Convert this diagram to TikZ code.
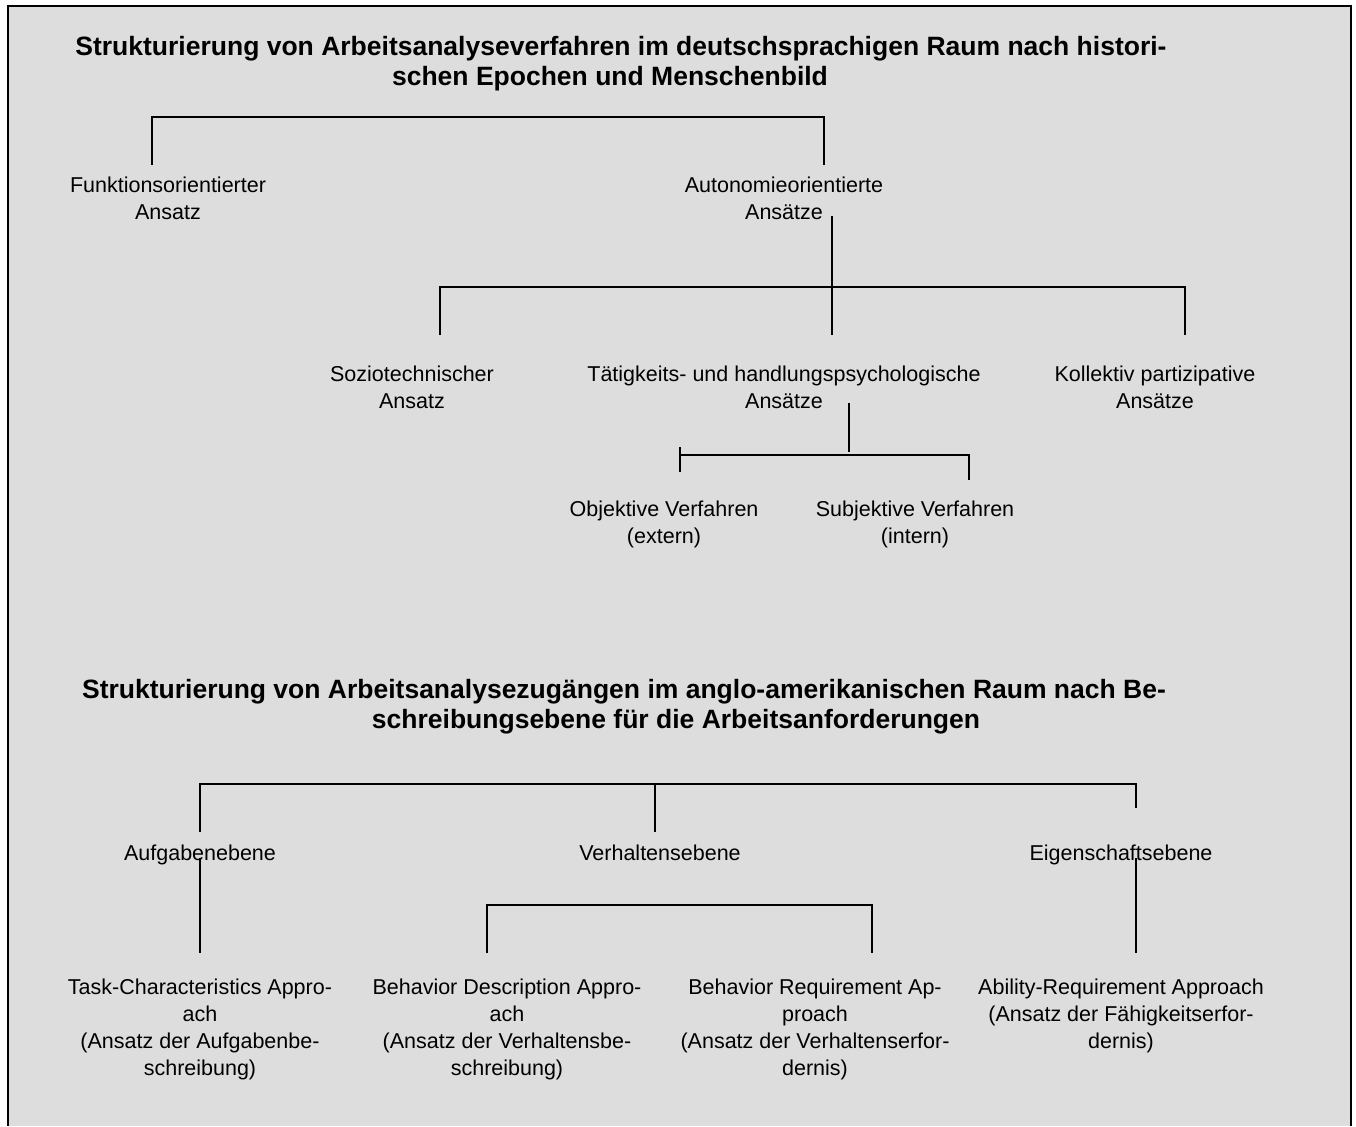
\documentclass[tikz,border=0pt]{standalone}
\usepackage{fontspec}
\setmainfont{Liberation Sans}
\definecolor{panel}{RGB}{221,221,221}
\begin{document}
\begin{tikzpicture}[x=1pt,y=-1pt,
  lbl/.style={anchor=north, align=center, inner sep=0pt, yshift=18.9pt,
    font=\fontsize{21.5}{27}\selectfont},
  ttl/.style={anchor=north, align=center, inner sep=0pt, yshift=21pt,
    font=\fontsize{26.5}{30}\selectfont\bfseries},
  link/.style={line width=1.8pt},
  frame/.style={line width=2pt}]

% page and panel
\useasboundingbox (0,0) rectangle (1356,1126);
\fill[white] (0,0) rectangle (1356,1126);
\fill[panel] (8,6) rectangle (1351,1126);
\draw[frame] (8,1126) -- (8,6) -- (1351,6) -- (1351,1126);

% ---------- German classification ----------
\node[ttl] (t1) at (621,55) {\strut Strukturierung von Arbeitsanalyseverfahren im deutschsprachigen Raum nach histori-\\
  schen Epochen und Menschenbild\hspace*{22pt}};

\node[lbl] (funk) at (168,192) {\strut Funktionsorientierter\\Ansatz};
\node[lbl] (auto) at (784,192) {\strut Autonomieorientierte\\Ansätze};

\node[lbl] (sozio) at (412,381) {\strut Soziotechnischer\\Ansatz};
\node[lbl] (taet) at (784,381) {\strut Tätigkeits- und handlungspsychologische\\Ansätze};
\node[lbl] (koll) at (1155,381) {\strut Kollektiv partizipative\\Ansätze};

\node[lbl] (obj) at (664,516) {\strut Objektive Verfahren\\(extern)};
\node[lbl] (subj) at (915,516) {\strut Subjektive Verfahren\\(intern)};

% ---------- Anglo-American classification ----------
\node[ttl] (t2) at (624,698) {\strut Strukturierung von Arbeitsanalysezugängen im anglo-amerikanischen Raum nach Be-\\
  \hspace*{104pt}schreibungsebene für die Arbeitsanforderungen};

\node[lbl] (aufg) at (200,860) {\strut Aufgabenebene};
\node[lbl] (verh) at (660,860) {\strut Verhaltensebene};
\node[lbl] (eig) at (1121,860) {\strut Eigenschaftsebene};

\node[lbl] (task) at (200,994) {\strut Task-Characteristics Appro-\\ach\\(Ansatz der Aufgabenbe-\\schreibung)};
\node[lbl] (bda) at (507,994) {\strut Behavior Description Appro-\\ach\\(Ansatz der Verhaltensbe-\\schreibung)};
\node[lbl] (bra) at (815,994) {\strut Behavior Requirement Ap-\\proach\\(Ansatz der Verhaltenserfor-\\dernis)};
\node[lbl] (ara) at (1121,994) {\strut Ability-Requirement Approach\\(Ansatz der Fähigkeitserfor-\\dernis)};

% ---------- bracket end points ----------
\coordinate (a1) at (152,165); \coordinate (a2) at (152,117);
\coordinate (a3) at (824,117); \coordinate (a4) at (824,165);

\coordinate (b0) at (832,216); \coordinate (b0e) at (832,335);
\coordinate (b1) at (440,335); \coordinate (b2) at (440,287);
\coordinate (b3) at (1185,287); \coordinate (b4) at (1185,335);

\coordinate (c0) at (849,403); \coordinate (c0e) at (849,452);
\coordinate (c1) at (680,447); \coordinate (c1e) at (680,472);
\coordinate (c2) at (680,455); \coordinate (c3) at (969,455); \coordinate (c4) at (969,480);

\coordinate (d1) at (200,832); \coordinate (d2) at (200,783);
\coordinate (d3) at (1136,784); \coordinate (d4) at (1136,808);
\coordinate (dm) at (655,784); \coordinate (dme) at (655,832);

\coordinate (e1) at (200,858); \coordinate (e1e) at (200,953);
\coordinate (e2) at (1136,858); \coordinate (e2e) at (1136,953);

\coordinate (f1) at (487,953); \coordinate (f2) at (487,905);
\coordinate (f3) at (872,905); \coordinate (f4) at (872,953);

% ---------- brackets ----------
\draw[link] (a1) -- (a2) -- (a3) -- (a4);
\draw[link] (b0) -- (b0e);
\draw[link] (b1) -- (b2) -- (b3) -- (b4);
\draw[link] (c0) -- (c0e);
\draw[link] (c1) -- (c1e);
\draw[link] (c2) -- (c3) -- (c4);
\draw[link] (d1) -- (d2) |- (d3) -- (d4);
\draw[link] (dm) -- (dme);
\draw[link] (e1) -- (e1e);
\draw[link] (e2) -- (e2e);
\draw[link] (f1) -- (f2) -- (f3) -- (f4);
\end{tikzpicture}
\end{document}
